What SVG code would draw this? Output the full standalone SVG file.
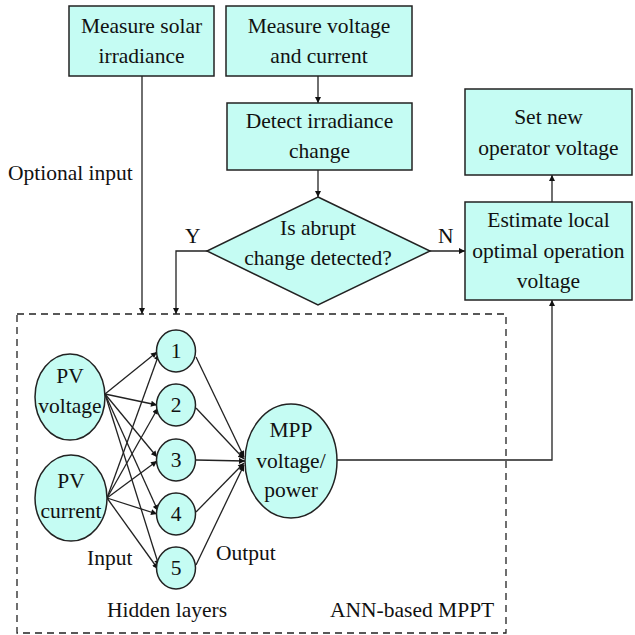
<svg xmlns="http://www.w3.org/2000/svg" width="635" height="635" viewBox="0 0 635 635">
<defs>
<marker id="ah" viewBox="0 0 10 10" refX="10" refY="5" markerWidth="8" markerHeight="6" markerUnits="userSpaceOnUse" orient="auto">
<path d="M0,0 L10,5 L0,10 z" fill="#111"/>
</marker>
<style>
.n{fill:#c5fcf3;stroke:#222;stroke-width:1.5}
.t{font-family:'Liberation Serif','Times New Roman',Times,'Nimbus Roman','DejaVu Serif',serif;font-size:21.5px;fill:#111;text-anchor:middle}
.l{font-family:'Liberation Serif','Times New Roman',Times,'Nimbus Roman','DejaVu Serif',serif;font-size:21.5px;fill:#111}
.a{fill:none;stroke:#222;stroke-width:1.3;marker-end:url(#ah)}
</style>
</defs>
<rect width="635" height="635" fill="#fff"/>
<g id="ann-box">
<rect x="17" y="314" width="489" height="319" fill="none" stroke="#222" stroke-width="1.3" stroke-dasharray="7,5"/>
<text class="l" x="330" y="617">ANN-based MPPT</text>
<text class="l" x="107" y="617">Hidden layers</text>
<text class="l" x="87" y="565">Input</text>
<text class="l" x="216" y="560">Output</text>
</g>
<g id="connectors">
<path class="a" d="M318,76 V103"/>
<path class="a" d="M318,170 V197"/>
<path class="a" d="M142,76 V314"/>
<path class="a" d="M207,251 H176 V314"/>
<path class="a" d="M430,251 H465"/>
<path class="a" d="M552,202 V175"/>
<path class="a" d="M337,460 H552 V300"/>
<path class="a" d="M105,394 L157,352"/>
<path class="a" d="M105,394 L157,405"/>
<path class="a" d="M105,394 L157,457"/>
<path class="a" d="M105,394 L158,511"/>
<path class="a" d="M105,394 L159,566"/>
<path class="a" d="M107,498 L159,354"/>
<path class="a" d="M107,498 L158,408"/>
<path class="a" d="M107,498 L157,461"/>
<path class="a" d="M107,498 L157,514"/>
<path class="a" d="M107,498 L158,569"/>
<path class="a" d="M196,357 L244,457"/>
<path class="a" d="M196,408 L244,459"/>
<path class="a" d="M196,460 L245,461"/>
<path class="a" d="M196,512 L244,463"/>
<path class="a" d="M196,565 L244,465"/>
<text class="l" x="8" y="180">Optional input</text>
<text class="l" x="185" y="243">Y</text>
<text class="l" x="438" y="243">N</text>
</g>
<g id="measure-irradiance">
<rect class="n" x="69" y="6" width="145" height="70"/>
<text class="t" x="141.5" y="33">Measure solar</text>
<text class="t" x="141.5" y="63">irradiance</text>
</g>
<g id="measure-vi">
<rect class="n" x="226" y="6" width="186" height="70"/>
<text class="t" x="319" y="33">Measure voltage</text>
<text class="t" x="319" y="63">and current</text>
</g>
<g id="detect">
<rect class="n" x="227" y="103" width="185" height="67"/>
<text class="t" x="319.5" y="128">Detect irradiance</text>
<text class="t" x="319.5" y="158">change</text>
</g>
<g id="decision">
<polygon class="n" points="318,197 430,251 318,305 207,251"/>
<text class="t" x="318" y="235">Is abrupt</text>
<text class="t" x="318" y="265">change detected?</text>
</g>
<g id="set-voltage">
<rect class="n" x="465" y="89" width="167" height="86"/>
<text class="t" x="548.5" y="124">Set new</text>
<text class="t" x="548.5" y="155">operator voltage</text>
</g>
<g id="estimate">
<rect class="n" x="465" y="202" width="167" height="98"/>
<text class="t" x="548.5" y="227">Estimate local</text>
<text class="t" x="548.5" y="258">optimal operation</text>
<text class="t" x="548.5" y="288">voltage</text>
</g>
<g id="pv-voltage">
<ellipse class="n" cx="70" cy="397" rx="35" ry="43"/>
<text class="t" x="70" y="383">PV</text>
<text class="t" x="70" y="413">voltage</text>
</g>
<g id="pv-current">
<ellipse class="n" cx="71" cy="498" rx="36" ry="43"/>
<text class="t" x="71" y="488">PV</text>
<text class="t" x="71" y="518">current</text>
</g>
<g id="h1"><ellipse class="n" cx="176" cy="351" rx="19.5" ry="21"/><text class="t" x="176" y="358">1</text></g>
<g id="h2"><ellipse class="n" cx="176" cy="405" rx="19.5" ry="21"/><text class="t" x="176" y="412">2</text></g>
<g id="h3"><ellipse class="n" cx="176" cy="460" rx="19.5" ry="21"/><text class="t" x="176" y="467">3</text></g>
<g id="h4"><ellipse class="n" cx="176" cy="514" rx="19.5" ry="21"/><text class="t" x="176" y="521">4</text></g>
<g id="h5"><ellipse class="n" cx="176" cy="568" rx="19.5" ry="21"/><text class="t" x="176" y="575">5</text></g>
<g id="mpp">
<ellipse class="n" cx="291" cy="461" rx="46" ry="57"/>
<text class="t" x="291" y="437">MPP</text>
<text class="t" x="291" y="468">voltage/</text>
<text class="t" x="291" y="497">power</text>
</g>
</svg>
